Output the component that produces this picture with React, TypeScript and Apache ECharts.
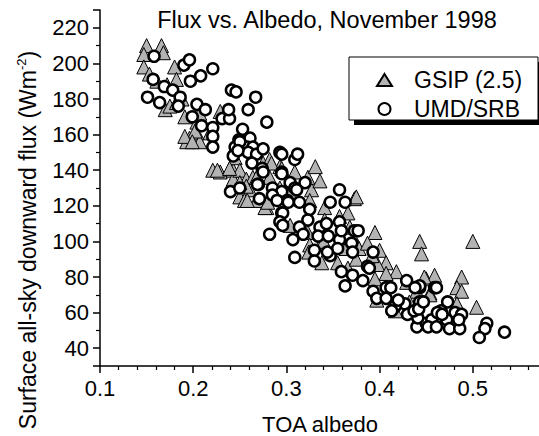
import React, { useEffect, useRef } from "react";
import * as echarts from "echarts";

const titleText = "Flux vs. Albedo, November 1998";
const xAxisTitle = "TOA albedo";
const seriesNames = ["GSIP (2.5)", "UMD/SRB"];

// GSIP (2.5) — gray triangles: [TOA albedo, flux]
const gsipData: number[][] = [
  [0.150, 210], [0.166, 210], [0.147, 205], [0.168, 206], [0.147, 198], [0.153, 194], [0.161, 190],
  [0.172, 188], [0.180, 198], [0.182, 191], [0.170, 174], [0.175, 176], [0.182, 178], [0.188, 180],
  [0.191, 170], [0.204, 167], [0.207, 172], [0.204, 161], [0.196, 158], [0.193, 156], [0.207, 156],
  [0.218, 161], [0.229, 173], [0.221, 140], [0.229, 139], [0.243, 140], [0.243, 135], [0.245, 147],
  [0.250, 140], [0.257, 135], [0.250, 125], [0.261, 129], [0.264, 136], [0.279, 119],
  [0.202, 162], [0.191, 159], [0.199, 156], [0.226, 140], [0.239, 141], [0.257, 131], [0.255, 123],
  [0.282, 136], [0.275, 144], [0.282, 146], [0.293, 142], [0.293, 130], [0.304, 127], [0.268, 123],
  [0.258, 123], [0.277, 119], [0.280, 122], [0.284, 144], [0.295, 141], [0.250, 133], [0.268, 136],
  [0.327, 129], [0.325, 123], [0.341, 119], [0.373, 124], [0.366, 116], [0.357, 114], [0.341, 112],
  [0.304, 109], [0.323, 105], [0.368, 108], [0.339, 101], [0.357, 97], [0.373, 101], [0.325, 98],
  [0.309, 139], [0.323, 136], [0.336, 134], [0.331, 142], [0.375, 125],
  [0.395, 105], [0.443, 100], [0.445, 93], [0.488, 80], [0.483, 74], [0.488, 72], [0.504, 63],
  [0.500, 100], [0.400, 95], [0.407, 88], [0.398, 87], [0.418, 83], [0.407, 82], [0.395, 79],
  [0.450, 79], [0.429, 77], [0.459, 81], [0.440, 72], [0.454, 71], [0.397, 67], [0.432, 66],
  [0.448, 80], [0.454, 70], [0.483, 65], [0.432, 61], [0.417, 61],
  [0.366, 85], [0.375, 90], [0.355, 88], [0.338, 88], [0.324, 94], [0.364, 96], [0.340, 100],
  [0.378, 96], [0.387, 99], [0.392, 92],
];

// UMD/SRB — open circles: [TOA albedo, flux]
const umdData: number[][] = [
  [0.158, 204], [0.157, 191], [0.151, 181], [0.164, 178], [0.169, 187], [0.178, 185], [0.186, 181],
  [0.184, 176], [0.190, 199], [0.196, 202], [0.197, 190], [0.208, 193], [0.221, 197], [0.204, 177],
  [0.199, 170], [0.209, 165], [0.213, 174], [0.221, 164], [0.221, 159], [0.221, 153], [0.231, 169],
  [0.239, 169], [0.238, 174], [0.241, 185], [0.246, 184], [0.259, 174], [0.267, 181], [0.279, 167],
  [0.253, 163], [0.249, 157], [0.261, 158], [0.258, 153], [0.264, 153], [0.245, 153], [0.243, 148],
  [0.259, 150], [0.268, 149], [0.263, 144], [0.274, 141], [0.270, 132], [0.240, 128], [0.271, 124],
  [0.275, 139], [0.250, 156], [0.275, 152], [0.248, 151], [0.293, 150], [0.309, 146], [0.295, 139],
  [0.269, 132], [0.304, 133], [0.285, 130], [0.295, 128], [0.309, 130], [0.250, 130], [0.285, 126],
  [0.295, 116], [0.301, 123], [0.295, 149], [0.295, 138], [0.320, 133], [0.311, 129], [0.290, 123],
  [0.302, 122], [0.314, 122], [0.296, 116], [0.325, 118], [0.357, 129], [0.347, 122], [0.363, 122],
  [0.293, 111], [0.323, 112], [0.296, 109], [0.314, 108], [0.336, 108], [0.282, 104], [0.307, 101],
  [0.318, 104], [0.334, 103], [0.345, 103], [0.357, 111], [0.373, 106], [0.357, 101], [0.330, 95],
  [0.347, 92], [0.309, 91], [0.343, 110], [0.359, 106], [0.377, 106], [0.370, 99], [0.355, 96],
  [0.371, 94], [0.344, 94], [0.393, 94], [0.359, 83], [0.371, 81], [0.382, 78], [0.387, 86],
  [0.363, 75], [0.393, 72], [0.407, 74], [0.429, 78], [0.397, 68], [0.407, 68], [0.416, 63],
  [0.427, 65], [0.430, 59], [0.443, 66], [0.443, 74], [0.459, 74], [0.440, 52], [0.450, 54],
  [0.443, 75], [0.461, 74], [0.473, 66], [0.466, 61], [0.481, 60], [0.488, 59], [0.441, 57],
  [0.456, 56], [0.472, 56], [0.452, 52], [0.461, 52], [0.475, 51], [0.486, 51], [0.515, 54],
  [0.513, 51], [0.507, 46], [0.534, 49], [0.312, 149], [0.330, 89], [0.389, 85], [0.412, 74],
  [0.417, 64], [0.413, 61], [0.420, 67], [0.438, 74], [0.437, 61], [0.442, 62], [0.447, 66],
  [0.462, 60], [0.467, 59], [0.485, 56],
];

const FONT = "'Liberation Sans', Arial, Helvetica, sans-serif";

export default function App() {
  const ref = useRef<HTMLDivElement>(null);
  useEffect(() => {
    document.body.style.margin = "0";
    if (!ref.current) return;
    const chart = echarts.init(ref.current, null, { renderer: "svg" });
    chart.setOption({
      animation: false,
      backgroundColor: "#ffffff",
      textStyle: { fontFamily: FONT },
      grid: {
        left: 100,
        top: 10,
        width: 466,
        height: 356,
        containLabel: false,
        outerBoundsMode: "none",
      },
      xAxis: {
        type: "value",
        min: 0.1,
        max: 0.6,
        interval: 0.1,
        axisLine: { show: true, onZero: false, lineStyle: { color: "#000", width: 1.5 } },
        axisTick: { show: true, inside: false, length: 7, lineStyle: { color: "#000", width: 1.5 } },
        minorTick: { show: true, splitNumber: 5, length: 4, lineStyle: { color: "#000", width: 1.2 } },
        axisLabel: { color: "#000", fontSize: 22, margin: 11, fontFamily: FONT, showMaxLabel: false },
        splitLine: { show: false },
      },
      yAxis: {
        type: "value",
        min: 30,
        max: 230,
        splitNumber: 10,
        minInterval: 20,
        maxInterval: 20,
        axisLine: { show: true, onZero: false, lineStyle: { color: "#000", width: 1.5 } },
        axisTick: { show: true, inside: false, length: 7, lineStyle: { color: "#000", width: 1.5 } },
        minorTick: { show: true, splitNumber: 2, length: 4, lineStyle: { color: "#000", width: 1.2 } },
        axisLabel: {
          color: "#000",
          fontSize: 22,
          margin: 11,
          fontFamily: FONT,
          showMinLabel: false,
          showMaxLabel: false,
        },
        splitLine: { show: false },
      },
      legend: {
        orient: "vertical",
        left: 371,
        top: 63,
        z: 10,
        itemWidth: 15,
        itemHeight: 12,
        itemGap: 5,
        data: [
          { name: seriesNames[0], icon: "triangle" },
          { name: seriesNames[1], icon: "circle" },
        ],
        textStyle: { color: "#000", fontSize: 23, fontFamily: FONT, lineHeight: 24, padding: [0, 0, 0, 17] },
      },
      graphic: [
        { type: "rect", z: 5, shape: { x: 354, y: 62, width: 189, height: 63 }, style: { fill: "#000" } },
        {
          type: "rect",
          z: 6,
          shape: { x: 349, y: 57, width: 189, height: 63 },
          style: { fill: "#fff", stroke: "#000", lineWidth: 1 },
        },
        {
          type: "text",
          z: 6,
          x: 327,
          y: 20,
          style: {
            text: titleText,
            fill: "#000",
            font: `23.5px ${FONT}`,
            align: "center",
            verticalAlign: "middle",
          },
        },
        {
          type: "text",
          z: 6,
          x: 320,
          y: 424,
          style: {
            text: xAxisTitle,
            fill: "#000",
            font: `22px ${FONT}`,
            align: "center",
            verticalAlign: "middle",
          },
        },
        {
          type: "text",
          z: 6,
          x: 28,
          y: 240,
          rotation: Math.PI / 2,
          style: {
            text: "{a|Surface all-sky downward flux (Wm}{s|-2}{a|)}",
            align: "center",
            verticalAlign: "middle",
            rich: {
              a: { fontSize: 23, fontFamily: FONT, fill: "#000", color: "#000", lineHeight: 26 },
              s: { fontSize: 13, fontFamily: FONT, fill: "#000", color: "#000", verticalAlign: "top", lineHeight: 26 },
            },
          },
        },
      ],
      series: [
        {
          name: seriesNames[0],
          type: "scatter",
          symbol: "triangle",
          symbolSize: 14,
          data: gsipData,
          itemStyle: { color: "#b3b3b3", borderColor: "#000", borderWidth: 1, opacity: 1 },
          z: 2,
        },
        {
          name: seriesNames[1],
          type: "scatter",
          symbol: "circle",
          symbolSize: 11,
          symbolKeepAspect: true,
          data: umdData,
          itemStyle: { color: "#fff", borderColor: "#000", borderWidth: 2.5, opacity: 1 },
          z: 3,
        },
      ],
    });
    return () => chart.dispose();
  }, []);
  return <div ref={ref} style={{ width: 539, height: 436 }} />;
}
